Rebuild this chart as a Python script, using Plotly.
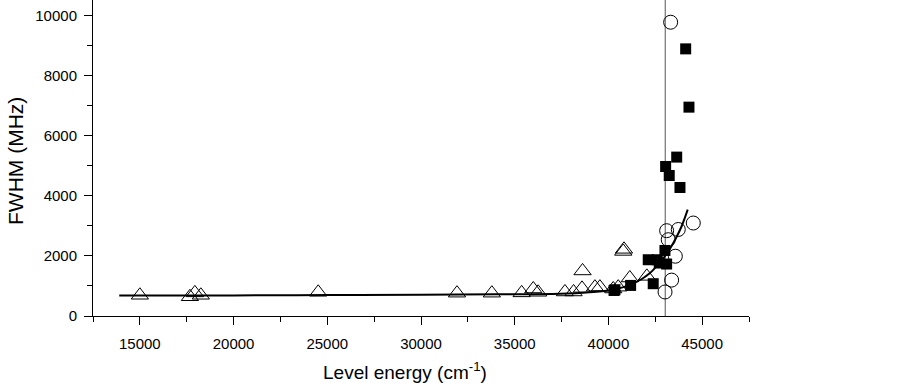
import plotly.graph_objects as go

# Open triangles
tri_x = [15000, 17670, 17935, 18255, 24515, 31920, 33780, 35370, 35990, 36250,
         37680, 38140, 38590, 38620, 39280, 39546, 40256, 40523, 40790, 40830,
         41140, 42050]
tri_y = [690, 640, 770, 690, 790, 760, 760, 770, 900, 790,
         800, 800, 920, 1500, 960, 960, 900, 960, 2150, 2220,
         1265, 1320]

# Open circles
circ_x = [43320, 43105, 43727, 44527, 43190, 43570, 43372, 43020]
circ_y = [9780, 2840, 2880, 3095, 2540, 1990, 1195, 800]

# Filled squares
sq_x = [44121, 44297, 43643, 43052, 43244, 43817, 43015, 42124, 42604, 42711,
        43105, 42390, 41184, 40347, 40300]
sq_y = [8893, 6953, 5290, 4977, 4677, 4278, 2182, 1873, 1873, 1763,
        1730, 1075, 1018, 875, 850]

# Fitted curve
fit_x = [13900, 20000, 25000, 30000, 34000, 37400, 39000, 40100, 40800, 41300,
         41800, 42200, 42600, 43000, 43300, 43600, 43900, 44230]
fit_y = [680, 685, 695, 705, 720, 740, 790, 860, 960, 1080,
         1240, 1420, 1680, 1980, 2260, 2590, 2980, 3540]

limit_x = [43030, 43030]
limit_y = [0, 10520]

fig = go.Figure()
fig.add_trace(go.Scatter(x=limit_x, y=limit_y, mode="lines",
                         line=dict(color="#555555", width=1), showlegend=False))
fig.add_trace(go.Scatter(x=tri_x, y=tri_y, mode="markers",
                         marker=dict(symbol="triangle-up-open", size=15,
                                     color="black", line=dict(width=1)),
                         showlegend=False))
fig.add_trace(go.Scatter(x=circ_x, y=circ_y, mode="markers",
                         marker=dict(symbol="circle-open", size=14,
                                     color="black", line=dict(width=1)),
                         showlegend=False))
fig.add_trace(go.Scatter(x=sq_x, y=sq_y, mode="markers",
                         marker=dict(symbol="square", size=11, color="black",
                                     line=dict(width=0)),
                         showlegend=False))
fig.add_trace(go.Scatter(x=fit_x, y=fit_y, mode="lines",
                         line=dict(color="black", width=2, shape="spline", smoothing=1),
                         showlegend=False))

font = "Liberation Sans, Arial, sans-serif"
L, R, T, B = 93, 154, 0, 67
pw = 903 - L - R
ph = 383 - T - B
fig.update_layout(
    width=903, height=383,
    margin=dict(l=L, r=R, t=T, b=B, autoexpand=False),
    paper_bgcolor="white", plot_bgcolor="white",
    font=dict(family=font, size=15, color="black"),
    xaxis=dict(range=[12500, 47500], showgrid=False, zeroline=False,
               automargin=False,
               showline=True, linecolor="black", linewidth=1,
               ticks="outside", ticklen=8, tickcolor="black",
               ticklabelstandoff=6,
               tickvals=[15000, 20000, 25000, 30000, 35000, 40000, 45000],
               tickformat="d",
               minor=dict(dtick=2500, tick0=12500, ticks="outside", ticklen=5,
                          tickcolor="black", showgrid=False),
               tickfont=dict(size=15)),
    yaxis=dict(range=[0, 10520], showgrid=False, zeroline=False,
               automargin=False,
               showline=True, linecolor="black", linewidth=1,
               ticks="outside", ticklen=8, tickcolor="black",
               ticklabelstandoff=4,
               tickvals=[0, 2000, 4000, 6000, 8000, 10000],
               tickformat="d",
               minor=dict(dtick=1000, ticks="outside", ticklen=5,
                          tickcolor="black", showgrid=False),
               tickfont=dict(size=15)),
    annotations=[
        dict(text="Level energy (cm<sup>-1</sup>)", xref="paper", yref="paper",
             x=(405 - L) / pw, y=(T + ph - 371) / ph,
             xanchor="center", yanchor="middle",
             showarrow=False, font=dict(size=19)),
        dict(text="FWHM (MHz)", xref="paper", yref="paper", textangle=-90,
             x=(15 - L) / pw, y=(T + ph - 161) / ph,
             xanchor="center", yanchor="middle",
             showarrow=False, font=dict(size=21)),
    ],
)

fig.write_html("out.html", config={"displayModeBar": False},
               post_script="document.body.style.margin='0';document.body.style.overflow='hidden';")
